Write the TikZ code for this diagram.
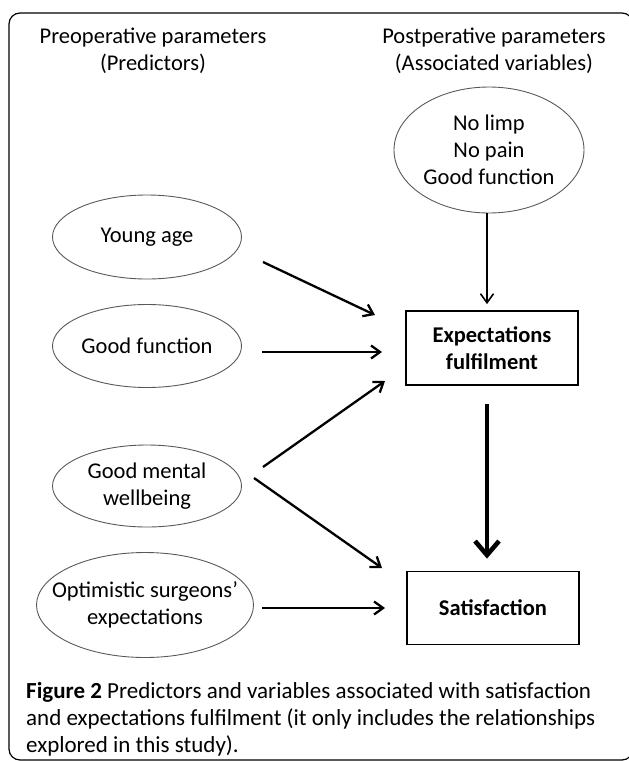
\documentclass[tikz,border=0pt]{standalone}
\usepackage{fontspec}
\setmainfont{Carlito}
\usepackage{tikz}
\usetikzlibrary{positioning}
\usetikzlibrary{arrows.meta}
\usetikzlibrary{shapes.geometric}

\begin{document}
\begin{tikzpicture}[x=1pt,y=-1pt,
  font=\fontsize{22.5}{27}\selectfont,
  oval/.style={ellipse, draw=black!65, line width=0.9pt, inner sep=0pt, align=center},
  outcome/.style={rectangle, draw=black, line width=1.8pt, font=\fontsize{22.5}{27}\selectfont\bfseries, align=center, inner sep=0pt, minimum width=172pt},
  link/.style={line width=2.3pt, -{Straight Barb[length=9pt,width=13pt]}},
  biglink/.style={line width=4.6pt, -{Straight Barb[length=14pt,width=24pt]}}]

\useasboundingbox (0,0) rectangle (629,761);

% frame round the figure
\draw[line width=1.2pt, rounded corners=11pt] (9,13) rectangle (633,760);

% column heads
\node[align=center] (pre) at (153,51) {Preoperative parameters\\(Predictors)};
\node[align=center] (post) at (494,51) {Postperative parameters\\(Associated variables)};

% predictors
\node[oval, minimum width=189pt, minimum height=84pt] (young) at (147,237) {Young age};
\node[oval, minimum width=189pt, minimum height=83pt] (goodfun) at (147,346) {Good function};
\node[oval, minimum width=189pt, minimum height=82pt] (mental) at (147,486) {Good mental\\wellbeing};
\node[oval, inner xsep=-32pt, minimum width=217pt, minimum height=105pt] (surgeon) at (145,605) {Optimistic surgeons'\\expectations};

% associated variables
\node[oval, minimum width=190pt, minimum height=126pt] (nolimp) at (489,150) {No limp\\No pain\\Good function};

\node[outcome, minimum height=74pt] (expect) at (492,348) {Expectations\\fulfilment};
\node[outcome, minimum height=73pt] (satisf) at (493,608) {Satisfaction};

% arrow ends
\coordinate (thick) at (487,0);
\coordinate (young-out) at (263,262);
\coordinate (young-in) at (375,315);
\coordinate (goodfun-out) at (262,352);
\coordinate (goodfun-in) at (382,352);
\coordinate (mental-up) at (263,467);
\coordinate (mental-upin) at (385,381);
\coordinate (mental-down) at (254,478);
\coordinate (mental-downin) at (382,568);
\coordinate (surgeon-out) at (262,608);
\coordinate (surgeon-in) at (385,608);

\draw[link, line width=1.6pt, shorten >=6pt] (nolimp.south -| thick) -- (expect.north -| thick);
\draw[link] (young-out) -- (young-in);
\draw[link] (goodfun-out) -- (goodfun-in);
\draw[link] (mental-up) -- (mental-upin);
\draw[link] (mental-down) -- (mental-downin);
\draw[link] (surgeon-out) -- (surgeon-in);
\draw[biglink, shorten <=18pt, shorten >=12pt] (expect.south -| thick) -- (satisf.north -| thick);

% caption
\node[anchor=north west, align=left, inner sep=0pt, font=\fontsize{23}{27}\selectfont] (caption) at (26,682)
  {\textbf{Figure 2} Predictors and variables associated with satisfaction\\
   and expectations fulfilment (it only includes the relationships\\
   explored in this study).};

\end{tikzpicture}
\end{document}
